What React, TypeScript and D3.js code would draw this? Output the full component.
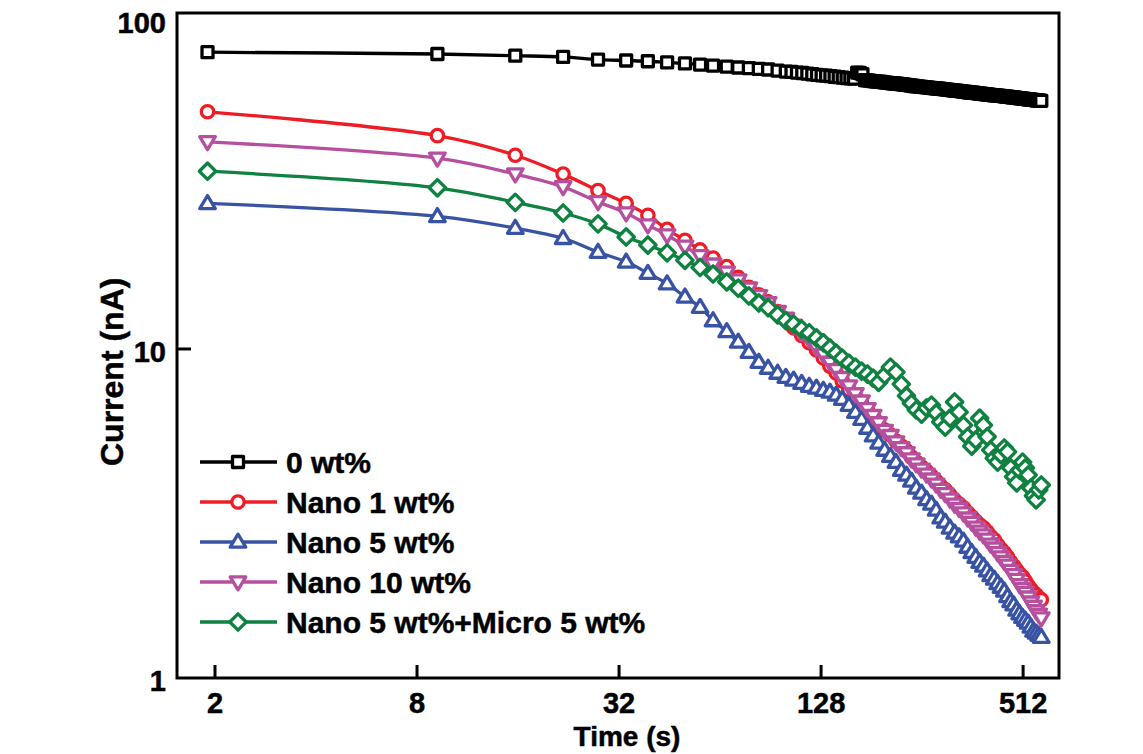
import React from 'react';
import * as d3 from 'd3';

// sampling times (s) shared by the filled-polymer samples
const times = [1.9, 9.2, 15.7, 21.8, 27.7, 33.6, 39, 44.5, 50.3, 55.8,
  61, 67, 72.5, 78, 83.5, 89, 95, 100.5, 106, 112,
  118, 124, 130, 136, 142, 148, 155, 162, 169, 176,
  183, 190, 198, 206, 214, 222, 230, 238, 246, 255,
  264, 273, 282, 291, 300, 310, 320, 330, 340, 350,
  360, 370, 380, 390, 400, 410, 420, 430, 440, 450, 460, 470, 480, 490, 500,
  510, 520, 530, 540, 550, 560, 570, 580];

// the unfilled sample was logged more often after ~100 s
const wt0Times = [1.9, 9.2, 15.7, 21.8, 27.7, 33.6, 39, 44.5, 50.3, 55.8,
  61, 67, 72.5, 78, 83.5, 89, 95, 100.5,
  104.5, 108.5, 112.5, 116.5, 120.5, 124.5, 128.5, 132.5, 136.5, 140.5,
  144.5, 148.5, 152.5, 156.5, 160.5, 164, 167, 170,
  173, 176, 179, 182, 185, 188, 191, 194, 197, 200, 203, 206, 209, 212,
  215, 218, 221, 224, 227, 230, 233, 236, 239, 242, 245, 248,
  252, 256, 260, 264, 268, 272, 276, 280, 284, 288, 292, 296, 300, 304,
  308, 312, 316, 320, 324, 328, 332, 336, 340, 344, 348, 352, 356, 360,
  364, 368, 372, 376, 380, 384, 388, 392, 396, 400,
  405, 410, 415, 420, 425, 430, 435, 440, 445, 450, 455, 460, 465, 470,
  475, 480, 485, 490, 495, 500, 505, 510, 515, 520, 525, 530, 535, 540,
  545, 550, 555, 560, 565, 570, 575, 580];

// current (nA)
const wt0 = [79.8, 78.8, 77.9, 77.2, 75.8, 75.3, 74.9, 74.3, 73.8, 73.2,
  72.7, 72.1, 71.7, 71.4, 71.0, 70.7, 70.2, 69.7,
  69.5, 69.2, 69.0, 68.7, 68.4, 68.1, 67.9, 67.7, 67.5, 67.2,
  67.0, 66.8, 66.6, 66.5, 66.3, 69.2, 69.0, 68.4,
  65.6, 65.5, 65.4, 65.2, 65.1, 65.0, 64.9, 64.8, 64.6, 64.5, 64.4, 64.3, 64.2, 64.1,
  64.0, 63.9, 63.8, 63.7, 63.6, 63.5, 63.4, 63.3, 63.2, 63.0, 62.9, 62.8,
  62.7, 62.6, 62.5, 62.4, 62.3, 62.2, 62.1, 62.0, 61.9, 61.8, 61.7, 61.6, 61.5, 61.4,
  61.3, 61.2, 61.1, 61.0, 60.95, 60.9, 60.8, 60.7, 60.6, 60.5, 60.4, 60.3, 60.2, 60.15,
  60.1, 60.0, 59.9, 59.8, 59.75, 59.7, 59.6, 59.5, 59.45, 59.4,
  59.3, 59.2, 59.1, 59.05, 59.0, 58.9, 58.8, 58.75, 58.7, 58.6, 58.5, 58.45, 58.4, 58.3,
  58.2, 58.15, 58.1, 58.0, 57.9, 57.85, 57.8, 57.7, 57.6, 57.55, 57.5, 57.4, 57.35, 57.3,
  57.2, 57.15, 57.1, 57.0, 56.95, 56.9, 56.85, 56.8];

const nano1 = [52.6, 44.5, 38.8, 34.0, 30.3, 27.7, 25.5, 23.1, 21.4, 20.0,
  18.9, 17.8, 16.5, 15.4, 14.6, 13.9, 13.0, 12.3, 11.6, 11.0,
  10.45, 9.94, 9.39, 8.87, 8.45, 7.99, 7.50, 7.15, 6.84, 6.53,
  6.22, 5.96, 5.67, 5.48, 5.25, 5.07, 4.90, 4.69, 4.53, 4.38,
  4.25, 4.11, 3.97, 3.83, 3.73, 3.60, 3.47, 3.38, 3.29, 3.18,
  3.09, 3.00, 2.92, 2.86, 2.78, 2.69, 2.63, 2.54, 2.46, 2.40, 2.33, 2.25, 2.19, 2.13, 2.07,
  2.03, 1.97, 1.91, 1.86, 1.82, 1.79, 1.75, 1.73];

const nano5 = [27.7, 25.3, 23.3, 21.7, 19.7, 18.4, 17.0, 15.8, 14.4, 13.4,
  12.2, 11.3, 10.5, 9.78, 9.12, 8.75, 8.45, 8.21, 8.05, 7.87,
  7.71, 7.61, 7.50, 7.40, 7.25, 7.04, 6.75, 6.43, 6.12, 5.75,
  5.45, 5.18, 4.93, 4.72, 4.53, 4.28, 4.14, 3.97, 3.78, 3.65,
  3.49, 3.38, 3.24, 3.07, 2.98, 2.86, 2.76, 2.69, 2.61, 2.50,
  2.41, 2.33, 2.25, 2.19, 2.12, 2.05, 2.00, 1.94, 1.89, 1.84, 1.77, 1.71, 1.67, 1.61, 1.57,
  1.53, 1.50, 1.47, 1.43, 1.39, 1.37, 1.35, 1.33];

const nano10 = [42.6, 38.0, 34.0, 31.1, 28.0, 25.9, 23.8, 22.2, 20.5, 19.2,
  18.1, 17.1, 16.2, 15.3, 14.5, 13.8, 13.0, 12.4, 11.8, 11.2,
  10.7, 10.1, 9.63, 9.1, 8.64, 8.18, 7.71, 7.30, 6.94, 6.58,
  6.27, 5.96, 5.65, 5.45, 5.21, 5.01, 4.83, 4.63, 4.47, 4.31,
  4.16, 4.02, 3.88, 3.74, 3.63, 3.49, 3.37, 3.27, 3.17, 3.06,
  2.97, 2.87, 2.79, 2.72, 2.64, 2.55, 2.48, 2.40, 2.33, 2.26, 2.20, 2.12, 2.06, 1.99, 1.92,
  1.87, 1.82, 1.76, 1.70, 1.65, 1.60, 1.56, 1.52];

const nanoMicro = [34.7, 30.9, 27.9, 25.9, 24.0, 21.9, 20.7, 19.6, 18.6, 17.7,
  16.9, 16.0, 15.3, 14.5, 13.8, 13.35, 12.7, 12.2, 11.9, 11.5,
  11.2, 10.8, 10.45, 10.07, 9.71, 9.38, 9.06, 8.81, 8.56, 8.39,
  8.15, 7.92, 8.33, 8.81, 8.50, 7.82, 7.20, 6.84, 6.53, 6.34,
  6.62, 6.75, 6.39, 6.00, 5.79, 6.16, 6.90, 6.43, 5.87, 5.41,
  5.07, 5.29, 6.16, 5.87, 5.41, 4.93, 4.66, 4.53, 4.77, 5.00, 4.87, 4.35, 4.09, 3.92, 4.28,
  4.53, 4.35, 4.14, 3.78, 3.58, 3.48, 3.73, 3.86];

const seriesNames = ['0 wt%', 'Nano 1 wt%', 'Nano 5 wt%', 'Nano 10 wt%', 'Nano 5 wt%+Micro 5 wt%'];
const seriesTimes = [wt0Times, times, times, times, times];
const seriesValues = [wt0, nano1, nano5, nano10, nanoMicro];
const seriesColors = ['#000000', '#ee1c25', '#3953a4', '#b6509e', '#0f8140'];
const seriesShapes = ['square', 'circle', 'up', 'down', 'diamond'];

const xTicks = [2, 8, 32, 128, 512];
const yTicks = [1, 10, 100];

const FONT = '"Liberation Sans", Arial, sans-serif';
const SW = 3.3;

const markerPath = (shape: string) => {
  switch (shape) {
    case 'square': return 'M-5.5,-5.5h11v11h-11Z';
    case 'circle': return 'M6.2,0A6.2,6.2 0 1,1 -6.2,0A6.2,6.2 0 1,1 6.2,0Z';
    case 'up': return 'M0,-7.8L7.8,5.2L-7.8,5.2Z';
    case 'down': return 'M0,7.8L7.8,-5.2L-7.8,-5.2Z';
    default: return 'M0,-8.2L8.2,0L0,8.2L-8.2,0Z';
  }
};

const App = () => {
  const left = 177, right = 1059, top = 13, bottom = 678;

  const x = d3.scaleLog().base(2).domain([1.541, 655]).range([left, right]);
  const y = d3.scaleLog().domain([1, 105]).range([bottom, top]);

  const line = d3.line<[number, number]>()
    .x(d => x(d[0]))
    .y(d => y(d[1]))
    .curve(d3.curveCatmullRom.alpha(0.5));

  return (
    <svg width={1143} height={754} style={{ position: 'absolute', left: 0, top: 0, background: '#fff' }}
      fontFamily={FONT} fontWeight="bold">
      {seriesValues.map((vals, i) => {
        const pts = seriesTimes[i].map((t, j) => [t, vals[j]] as [number, number]);
        return (
          <g key={seriesNames[i]}>
            <path d={line(pts) || ''} fill="none" stroke={seriesColors[i]} strokeWidth={SW} />
            {pts.map((p, j) => (
              <path key={j} d={markerPath(seriesShapes[i])}
                transform={`translate(${x(p[0])},${y(p[1])})`}
                fill="#fff" stroke={seriesColors[i]} strokeWidth={SW} strokeLinejoin="round" />
            ))}
          </g>
        );
      })}

      {/* frame */}
      <rect x={left} y={top} width={right - left} height={bottom - top}
        fill="none" stroke="#000" strokeWidth={3} />

      {/* x axis */}
      {xTicks.map(t => (
        <g key={t}>
          <line x1={x(t)} x2={x(t)} y1={bottom} y2={bottom - 13} stroke="#000" strokeWidth={3} />
          <text x={x(t)} y={bottom + 35} textAnchor="middle" fontSize={29}
            stroke="#000" strokeWidth={0.5}>{t}</text>
        </g>
      ))}
      <text x={627} y={746} textAnchor="middle" fontSize={28} stroke="#000" strokeWidth={0.5}>Time (s)</text>

      {/* y axis */}
      {yTicks.map(t => (
        <g key={t}>
          {t === 10 && <line x1={left} x2={left + 14} y1={y(t)} y2={y(t)} stroke="#000" strokeWidth={3} />}
          <text x={166} y={y(t) + 3} textAnchor="end" dominantBaseline="central" fontSize={29}
            stroke="#000" strokeWidth={0.5}>{t}</text>
        </g>
      ))}
      <text transform="translate(123,466) rotate(-90)" textAnchor="start" fontSize={32}
        stroke="#000" strokeWidth={0.5}>Current (nA)</text>

      {/* legend */}
      {seriesNames.map((name, i) => {
        const cy = 462 + i * 40;
        return (
          <g key={name}>
            <line x1={200} x2={277} y1={cy} y2={cy} stroke={seriesColors[i]} strokeWidth={SW} />
            <path d={markerPath(seriesShapes[i])} transform={`translate(238,${cy})`}
              fill="#fff" stroke={seriesColors[i]} strokeWidth={SW} strokeLinejoin="round" />
            <text x={286} y={cy + 11} fontSize={30} stroke="#000" strokeWidth={0.5}>{name}</text>
          </g>
        );
      })}
    </svg>
  );
};

export default App;
